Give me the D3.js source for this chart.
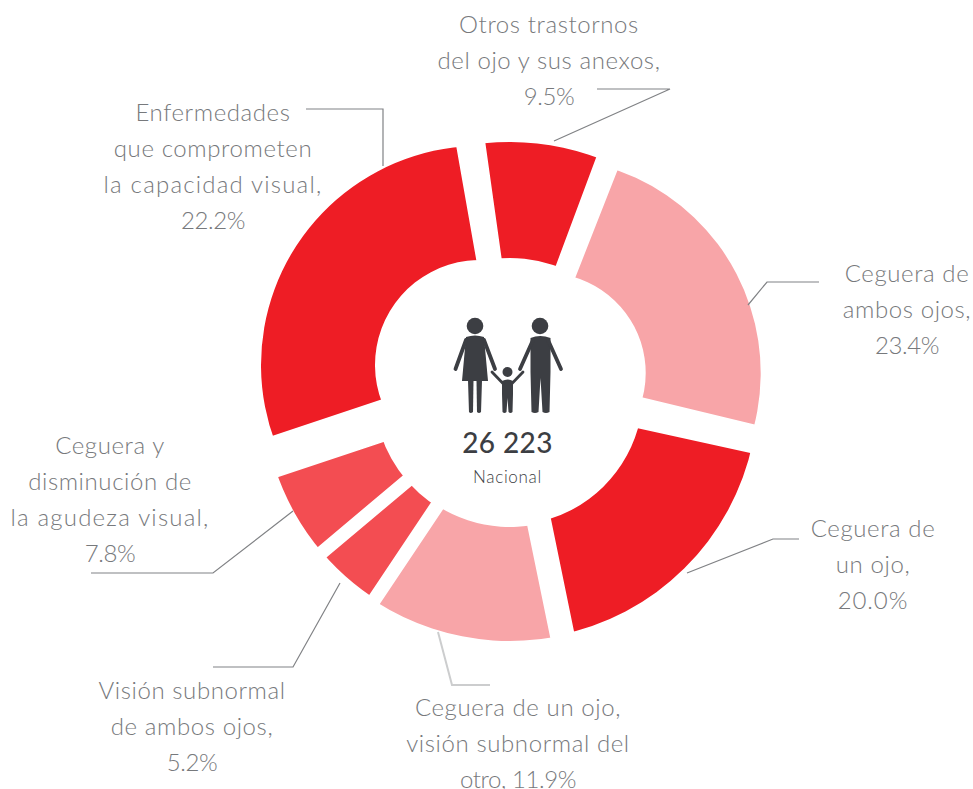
<!DOCTYPE html>
<html lang="es">
<head>
<meta charset="utf-8">
<script src="https://cdnjs.cloudflare.com/ajax/libs/d3/7.8.5/d3.min.js"></script>
<style>
html,body{margin:0;padding:0;background:#fff;}
svg{display:block;}
text{font-family:Lato,"Open Sans",sans-serif;}
</style>
</head>
<body>
<svg id="chart" width="973" height="789"></svg>
<script>
// Categories and labelled values (as printed in the reference)
const categories = ["Otros trastornos del ojo y sus anexos","Ceguera de ambos ojos","Ceguera de un ojo","Ceguera de un ojo, visión subnormal del otro","Visión subnormal de ambos ojos","Ceguera y disminución de la agudeza visual","Enfermedades que comprometen la capacidad visual"];
const labelledPercent = ["9.5%","23.4%","20.0%","11.9%","5.2%","7.8%","22.2%"];
// Share of the ring each wedge actually takes in the picture (%; differs from the printed %)
const drawnShare = [7.9,22.6,18.5,12.6,4.5,6.0,27.9];
const tiers = ["red","pink","red","pink","mid","mid","red"];
const labelLines = [
  ["Otros trastornos","del ojo y sus anexos,","9.5%"],
  ["Ceguera de","ambos ojos,","23.4%"],
  ["Ceguera de","un ojo,","20.0%"],
  ["Ceguera de un ojo,","visión subnormal del","otro, 11.9%"],
  ["Visión subnormal","de ambos ojos,","5.2%"],
  ["Ceguera y","disminución de","la agudeza visual,","7.8%"],
  ["Enfermedades","que comprometen","la capacidad visual,","22.2%"]
];
const total = "26 223";
const scope = "Nacional";

const cx = 510, cy = 392, r1 = 250;
const startDeg = -8;
// linear inset of each wedge's leading and trailing edge, in px, and small angular corrections
const insetStart = [10.3,19,8,10,4.3,5,33.6];
const insetEnd = [1.2,26,14.6,9.6,8.6,7.5,10.3];
const startNudgeDeg = [0,1,0.6,0,0,0,0];
const endNudgeDeg = [0,1.8,0,0,0,0,-2];
// the wedges do not all sit on one circle in the reference
const rings = [
  {dx:0,dy:0,inner:134,outer:250},
  {dx:35.7,dy:-19,inner:100,outer:215},
  {dx:0,dy:0,inner:133,outer:248},
  {dx:0,dy:0,inner:135,outer:249},
  {dx:0,dy:0,inner:136,outer:247},
  {dx:0,dy:0,inner:136,outer:247},
  {dx:-30,dy:-27,inner:105,outer:219}
];
const color = d3.scaleOrdinal().domain(["red","pink","mid"]).range(["#ee1d25","#f8a5a8","#f34d52"]);
const rad = d => d * Math.PI / 180;
const svg = d3.select("#chart");
const ink = "#808285";

const layout = d3.pie().sort(null).value(d => d)
  .startAngle(rad(startDeg)).endAngle(rad(startDeg+360));
const wedges = layout(drawnShare);
const arc = d3.arc().padRadius(r1);
const over = 0.6, clipIn = 54, clipOut = 272;
const ring = svg.append("g").attr("transform",`translate(${cx},${cy})`);
const defs = svg.append("defs");
wedges.forEach((d,i) => {
  const start = d.startAngle + rad(startNudgeDeg[i]);
  const end = d.endAngle + rad(endNudgeDeg[i]);
  defs.append("clipPath").attr("id","a"+i).append("path")
    .attr("d",arc({innerRadius:clipIn,outerRadius:clipOut,startAngle:start,endAngle:end+over,padAngle:2*insetStart[i]/r1}));
  defs.append("clipPath").attr("id","b"+i).append("path")
    .attr("d",arc({innerRadius:clipIn,outerRadius:clipOut,startAngle:start-over,endAngle:end,padAngle:2*insetEnd[i]/r1}));
  const rg = rings[i];
  ring.append("g").attr("clip-path",`url(#a${i})`)
    .append("g").attr("clip-path",`url(#b${i})`)
    .append("path")
    .attr("transform",`translate(${rg.dx},${rg.dy})`)
    .attr("d",arc({innerRadius:rg.inner,outerRadius:rg.outer,startAngle:start-over,endAngle:end+over,padAngle:0}))
    .attr("fill",color(tiers[i]));
});

// leader lines
const leaders = [
  {pts:[[554,141],[670,89],[597,89]],c:ink,w:1.2},
  {pts:[[748,305],[767,282],[819,282]],c:ink,w:1.2},
  {pts:[[687,573],[773,539],[799,539]],c:ink,w:1.2},
  {pts:[[438,632],[452,685],[490,685]],c:"#cccdce",w:2},
  {pts:[[340,583],[293,667],[213,667]],c:ink,w:1.2},
  {pts:[[293,511],[213,573],[91,573]],c:ink,w:1.2},
  {pts:[[306,109],[383,109],[383,166]],c:ink,w:1.2}
];
const line = d3.line();
svg.append("g").selectAll("path").data(leaders).join("path")
  .attr("d",d => line(d.pts)).attr("fill","none").attr("stroke",d => d.c).attr("stroke-width",d => d.w);

// labels
const anchors = [[549,33],[907,282],[873,537],[518,716],[192,699],[110,454],[213,121]];
const lab = svg.append("g").attr("text-anchor","middle").attr("fill","#77797c")
  .style("font-size","24px").style("font-weight","300");
const spacing = t => t === "20.0%" ? "0.9px" : t.includes("%") ? "-0.4px" : t.startsWith("la ") ? "1.2px" : "0.6px";
labelLines.forEach((ls,i) => {
  lab.selectAll(null).data(ls).join("text")
    .attr("x",anchors[i][0]).attr("y",(d,j) => anchors[i][1]+j*36)
    .style("letter-spacing",spacing).text(d => d);
});

// family icon
const dark = "#3c3e43";
const icon = svg.append("g").attr("fill",dark).attr("stroke","none");
[[475,326,8.3],[540,326,8.3],[507.5,372,5]].forEach(c =>
  icon.append("circle").attr("cx",c[0]).attr("cy",c[1]).attr("r",c[2]));
const iconPaths = [
  "M466,337 Q475,334 484,337 L488,381 L462,381 Z",
  "M468,381 L473.5,381 L473,412 Q470.5,414 469,412 Z",
  "M476.5,381 L482,381 L481,412 Q479,414 477,412 Z",
  "M530.5,338 Q540,334 550.5,338 L550.5,372 L549.5,412 Q546,414 542.5,412 L540.5,378 L538.5,412 Q535,414 531.5,412 L530.5,372 Z",
  "M502,381 Q507.5,378 513,381 L513,394 L512.5,412 Q510.5,414 508.5,412 L507.5,398 L506.5,412 Q504.5,414 502.5,412 L502,394 Z"
];
icon.selectAll("path").data(iconPaths).join("path").attr("d",d => d);
const limbs = [
  [[[466,340],[455.5,369]],3.8],[[[484,340],[495,369]],3.8],
  [[[533,340],[520,369]],3.8],[[[548,340],[561,369]],3.8],
  [[[503.5,384],[492,372]],2.8],[[[511.5,384],[523,372]],2.8]
];
svg.append("g").selectAll("path").data(limbs).join("path")
  .attr("d",d => line(d[0])).attr("fill","none").attr("stroke",dark)
  .attr("stroke-width",d => d[1]).attr("stroke-linecap","round");

// centre text
svg.append("text").attr("x",507.5).attr("y",453).attr("text-anchor","middle").attr("fill",dark)
  .style("font-size","28px").style("font-weight","500").style("letter-spacing","0.4px").text(total);
svg.append("text").attr("x",507.5).attr("y",483).attr("text-anchor","middle").attr("fill",dark)
  .style("font-size","17px").style("font-weight","300").style("letter-spacing","0.7px").text(scope);
</script>
</body>
</html>
